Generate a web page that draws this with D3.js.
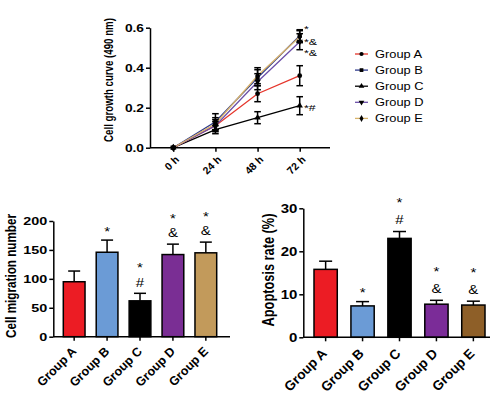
<!DOCTYPE html>
<html>
<head>
<meta charset="utf-8">
<script src="https://cdn.jsdelivr.net/npm/d3@7"></script>
<style>
  body { margin: 0; background: #fff; }
  svg { display: block; font-family: Arial, "Liberation Sans", sans-serif; }
</style>
</head>
<body>
<svg id="chart" width="500" height="397"></svg>
<script>
// ---- growth curve (OD 490 nm) ----
const hours = ["0 h", "24 h", "48 h", "72 h"];
const groups = ["Group A", "Group B", "Group C", "Group D", "Group E"];
const growthA = [0, 0.11, 0.27, 0.36];
const growthB = [0, 0.13, 0.35, 0.56];
const growthC = [0, 0.09, 0.15, 0.21];
const growthD = [0, 0.11, 0.33, 0.53];
const growthE = [0, 0.12, 0.36, 0.555];
const growthErrA = [0, 0.02, 0.04, 0.05];
const growthErrB = [0, 0.04, 0.04, 0.03];
const growthErrC = [0, 0.02, 0.03, 0.045];
const growthErrD = [0, 0.03, 0.04, 0.04];
const growthErrE = [0, 0.03, 0.04, 0.03];
const growthTicks = [0, 0.2, 0.4, 0.6];
const growthMarks = ["", "*", "*#", "*&", "*&"];

// ---- migration ----
const migration = [95, 146, 62, 142, 145];
const migrationErr = [18.5, 21, 13, 18, 18.5];
const migrationTicks = [0, 50, 100, 150, 200];
const migrationMarks = [[], ["*"], ["#", "*"], ["&", "*"], ["&", "*"]];

// ---- apoptosis ----
const apoptosis = [15.8, 7.3, 23.0, 7.7, 7.5];
const apoptosisErr = [1.9, 1.0, 1.6, 0.9, 0.9];
const apoptosisTicks = [0, 10, 20, 30];
const apoptosisMarks = [[], ["*"], ["#", "*"], ["&", "*"], ["&", "*"]];

const lineColors = ["#e5352b", "#2e3a8c", "#000000", "#6b4fa8", "#d8b36a"];
const migColors = ["#ec1c24", "#6b9bd6", "#000000", "#7a2e94", "#c29a5b"];
const apoColors = ["#ec1c24", "#6b9bd6", "#000000", "#7b2c98", "#8e5f28"];

const SX = 1.25; // picture is a bit wider than tall, text looks stretched
const svg = d3.select("#chart");

function styleAxis(g) {
  g.selectAll("path, line").attr("stroke", "#000").attr("stroke-width", 1.5);
  g.selectAll("text").attr("font-weight", "bold").attr("fill", "#000");
}

function symText(g, x, y, s, size) {
  g.append("text")
    .attr("transform", `translate(${x},${y}) scale(${SX},1)`)
    .attr("text-anchor", "middle")
    .attr("font-size", size)
    .text(s);
}

//------------------------- growth curve -------------------------
const gy = d3.scaleLinear().domain([0, 0.6]).range([147.7, 27.7]);
const gx = d3.scalePoint().domain(hours).range([148, 325]).padding(0.6);

const upper = svg.append("g");
upper.append("g").attr("transform", "translate(150,0)")
  .call(d3.axisLeft(gy).tickValues(growthTicks).tickFormat(d3.format(".1f")).tickSize(4).tickSizeOuter(0))
  .call(styleAxis)
  .call(g => g.selectAll("text").attr("font-size", 11).attr("x", -6 / SX).attr("transform", `scale(${SX},1)`));

upper.append("g").attr("transform", "translate(0,147.7)")
  .call(d3.axisBottom(gx).tickSize(4))
  .call(g => g.select(".domain").remove())
  .call(styleAxis)
  .call(g => g.selectAll("text").attr("font-size", 10.5).attr("text-anchor", "end")
    .attr("y", 0).attr("dy", 0).attr("transform", "translate(6,12.5) rotate(-45)"));
upper.append("line").attr("x1", 150).attr("x2", 330).attr("y1", 147.7).attr("y2", 147.7)
  .attr("stroke", "#000").attr("stroke-width", 1.5);

upper.append("text")
  .attr("transform", `translate(113,80) scale(${SX},1) rotate(-90)`)
  .attr("text-anchor", "middle").attr("font-size", 9.7).attr("font-weight", "bold")
  .text("Cell growth curve (490 nm)");

const series = [
  { vals: growthA, err: growthErrA, sym: d3.symbolCircle },
  { vals: growthB, err: growthErrB, sym: d3.symbolSquare },
  { vals: growthC, err: growthErrC, sym: d3.symbolTriangle },
  { vals: growthD, err: growthErrD, sym: d3.symbolTriangle, flip: true },
  { vals: growthE, err: growthErrE, sym: d3.symbolDiamond }
];
series.forEach((s, i) => { s.color = lineColors[i]; s.name = groups[i]; s.mark = growthMarks[i]; });

const line = d3.line().x((d, i) => gx(hours[i])).y(d => gy(d));
// draw C..A..B..D..E so that the light lines end on top like the picture
[2, 0, 1, 3, 4].forEach(i => {
  upper.append("path").datum(series[i].vals).attr("d", line)
    .attr("fill", "none").attr("stroke", series[i].color).attr("stroke-width", 1.3);
});

series.forEach(s => {
  s.vals.forEach((v, i) => {
    if (!s.err[i]) return;
    const x = gx(hours[i]);
    upper.append("line").attr("x1", x).attr("x2", x).attr("y1", gy(v - s.err[i])).attr("y2", gy(v + s.err[i]))
      .attr("stroke", "#000").attr("stroke-width", 1.5);
    [v - s.err[i], v + s.err[i]].forEach(e => {
      upper.append("line").attr("x1", x - 3.3).attr("x2", x + 3.3).attr("y1", gy(e)).attr("y2", gy(e))
        .attr("stroke", "#000").attr("stroke-width", 1.5);
    });
  });
});

series.forEach(s => {
  s.vals.forEach((v, i) => {
    upper.append("path").attr("d", d3.symbol().type(s.sym).size(18)())
      .attr("transform", `translate(${gx(hours[i])},${gy(v)})` + (s.flip ? " rotate(180)" : ""))
      .attr("fill", "#000");
  });
});

// significance marks at 72 h
const markShift = [0, -3.5, 5, 14, 8];
series.forEach((s, i) => {
  if (!s.mark) return;
  upper.append("text")
    .attr("transform", `translate(304,${gy(s.vals[3]) + markShift[i]}) scale(${SX},1)`)
    .attr("font-size", 9.8).text(s.mark);
});

// legend
const leg = svg.append("g");
series.forEach((s, i) => {
  const y = 54 + i * 16.1;
  leg.append("line").attr("x1", 355).attr("x2", 368).attr("y1", y).attr("y2", y)
    .attr("stroke", s.color).attr("stroke-width", 1.3);
  leg.append("path").attr("d", d3.symbol().type(s.sym).size(14)())
    .attr("transform", `translate(361.5,${y})` + (s.flip ? " rotate(180)" : ""))
    .attr("fill", "#000");
  leg.append("text").attr("transform", `translate(375,${y + 3.7}) scale(${SX},1)`)
    .attr("font-size", 10.3).text(s.name);
});

//------------------------- bar charts -------------------------
function drawBars(o) {
  const g = svg.append("g");
  const y = d3.scaleLinear().domain(o.yDomain).range(o.yRange);
  const x = d3.scaleBand().domain(groups).range(o.bandRange).paddingInner(o.padInner).paddingOuter(0);
  const base = o.yRange[0];

  g.append("g").attr("transform", `translate(${o.axisX},0)`)
    .call(d3.axisLeft(y).tickValues(o.ticks).tickSize(4).tickSizeOuter(0))
    .call(styleAxis)
    .call(a => a.selectAll("text").attr("font-size", o.tickFont).attr("x", -6 / SX).attr("transform", `scale(${SX},1)`));

  g.append("g").attr("transform", `translate(0,${base})`)
    .call(d3.axisBottom(x).tickSize(4))
    .call(a => a.select(".domain").remove())
    .call(styleAxis)
    .call(a => a.selectAll("text").attr("font-size", o.labelFont).attr("text-anchor", "end")
      .attr("y", 0).attr("dy", 0).attr("transform", `translate(${o.labelDx},${o.labelDy}) rotate(-45)`));

  // error bars (upper only)
  o.values.forEach((v, i) => {
    const cx = x(groups[i]) + x.bandwidth() / 2;
    g.append("line").attr("x1", cx).attr("x2", cx).attr("y1", y(v)).attr("y2", y(v + o.errs[i]))
      .attr("stroke", "#000").attr("stroke-width", 1.5);
    g.append("line").attr("x1", cx - o.cap).attr("x2", cx + o.cap)
      .attr("y1", y(v + o.errs[i])).attr("y2", y(v + o.errs[i]))
      .attr("stroke", "#000").attr("stroke-width", 1.5);
  });

  g.selectAll("rect.bar").data(o.values).join("rect").attr("class", "bar")
    .attr("x", (d, i) => x(groups[i]))
    .attr("width", x.bandwidth())
    .attr("y", d => y(d))
    .attr("height", d => base - y(d))
    .attr("fill", (d, i) => o.colors[i])
    .attr("stroke", "#000").attr("stroke-width", 1.5);

  g.append("line").attr("x1", o.axisX).attr("x2", o.axisEnd).attr("y1", base).attr("y2", base)
    .attr("stroke", "#000").attr("stroke-width", 1.5);

  // significance symbols stacked above error bar
  o.marks.forEach((m, i) => {
    const cx = x(groups[i]) + x.bandwidth() / 2;
    const errTop = y(o.values[i] + o.errs[i]);
    m.forEach((s, k) => {
      const c = errTop - o.off1 - k * o.off2;
      symText(g, cx, c + (s === "*" ? 0.58 : 0.36) * o.markFont, s, o.markFont);
    });
  });

  g.append("text")
    .attr("transform", `translate(${o.titleX},${o.titleY}) scale(${SX},1) rotate(-90)`)
    .attr("text-anchor", "middle").attr("font-size", o.titleFont).attr("font-weight", "bold")
    .text(o.title);
}

drawBars({
  values: migration, errs: migrationErr, colors: migColors, marks: migrationMarks, ticks: migrationTicks,
  yDomain: [0, 200], yRange: [336.7, 221], bandRange: [63.3, 216.7], padInner: 0.34,
  axisX: 53.3, axisEnd: 230, cap: 6, tickFont: 11.5, labelFont: 12.5, labelDx: 3, labelDy: 15.5,
  markFont: 12, off1: 11, off2: 17,
  title: "Cell migration number", titleX: 16, titleY: 276, titleFont: 11.7
});

drawBars({
  values: apoptosis, errs: apoptosisErr, colors: apoColors, marks: apoptosisMarks, ticks: apoptosisTicks,
  yDomain: [0, 30], yRange: [337.3, 208.3], bandRange: [314, 485], padInner: 0.37,
  axisX: 303.3, axisEnd: 490, cap: 6.5, tickFont: 12, labelFont: 13.5, labelDx: 2, labelDy: 17,
  markFont: 12, off1: 12, off2: 19,
  title: "Apoptosis rate (%)", titleX: 273.5, titleY: 270, titleFont: 12.8
});
</script>
</body>
</html>
